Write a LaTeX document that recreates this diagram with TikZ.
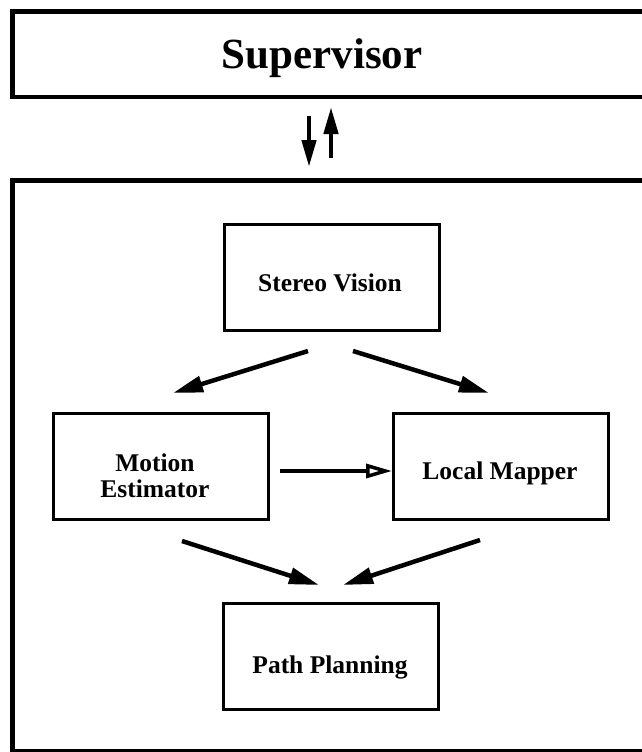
\documentclass[tikz,border=0pt]{standalone}
\usepackage{fontspec}
\setmainfont{Liberation Serif}
\usetikzlibrary{arrows.meta}
\begin{document}
\begin{tikzpicture}[x=1pt,y=-1pt,
  outerbox/.style={draw, line width=4.5pt, inner sep=0pt, anchor=north west},
  inbox/.style={draw, line width=2.5pt, minimum width=215pt, minimum height=106pt, inner sep=0pt, anchor=north west},
  lbl/.style={font=\fontsize{25.5}{26}\selectfont\bfseries, align=center, inner sep=0pt},
  biglbl/.style={font=\fontsize{43}{46}\selectfont\bfseries, inner sep=0pt, anchor=base},
  flow/.style={line width=4.5pt, -{Triangle[length=30pt,width=16pt]}},
  openflow/.style={line width=4.5pt, -{Triangle[open,length=26pt,width=14pt,line width=3.5pt]}},
  vflow/.style={line width=4.5pt, -{Triangle[length=27pt,width=14pt]}}]
\useasboundingbox (0,0) rectangle (642,752);
\fill[white] (0,0) rectangle (642,752);
% outer boxes
\node[outerbox, minimum width=640pt, minimum height=85pt] (sup) at (10,9.5) {};
\node[biglbl] (suptext) at (322,68) {Supervisor};
\node[outerbox, minimum width=640pt, minimum height=571pt] (sys) at (10,178) {};
% inner boxes
\node[inbox] (sv) at (223,223) {};
\node[lbl, anchor=base] (svtext) at (330,291) {Stereo Vision};
\node[inbox] (me) at (52,412) {};
\node[lbl] (metext) at (155,476) {Motion\\Estimator};
\node[inbox] (lm) at (392,412) {};
\node[lbl, anchor=base] (lmtext) at (500,479) {Local Mapper};
\node[inbox] (pp) at (222,602) {};
\node[lbl, anchor=base] (pptext) at (330,673) {Path Planning};
% connector end points
\coordinate (v1s) at (309,116); \coordinate (v1e) at (309,167);
\coordinate (v2s) at (331,158); \coordinate (v2e) at (331,107);
\coordinate (a1s) at (308,351); \coordinate (a1e) at (173,393);
\coordinate (a2s) at (353,351); \coordinate (a2e) at (489,393);
\coordinate (a3s) at (182,541); \coordinate (a3e) at (319,585);
\coordinate (a4s) at (480,540); \coordinate (a4e) at (343,585);
\coordinate (a5s) at (280,471); \coordinate (a5e) at (392,471);
% connectors
\draw[vflow] (v1s) -- (v1e);
\draw[vflow] (v2s) -- (v2e);
\draw[flow] (a1s) -- (a1e);
\draw[flow] (a2s) -- (a2e);
\draw[flow] (a3s) -- (a3e);
\draw[flow] (a4s) -- (a4e);
\draw[openflow] (a5s) -- (a5e);
\end{tikzpicture}
\end{document}
